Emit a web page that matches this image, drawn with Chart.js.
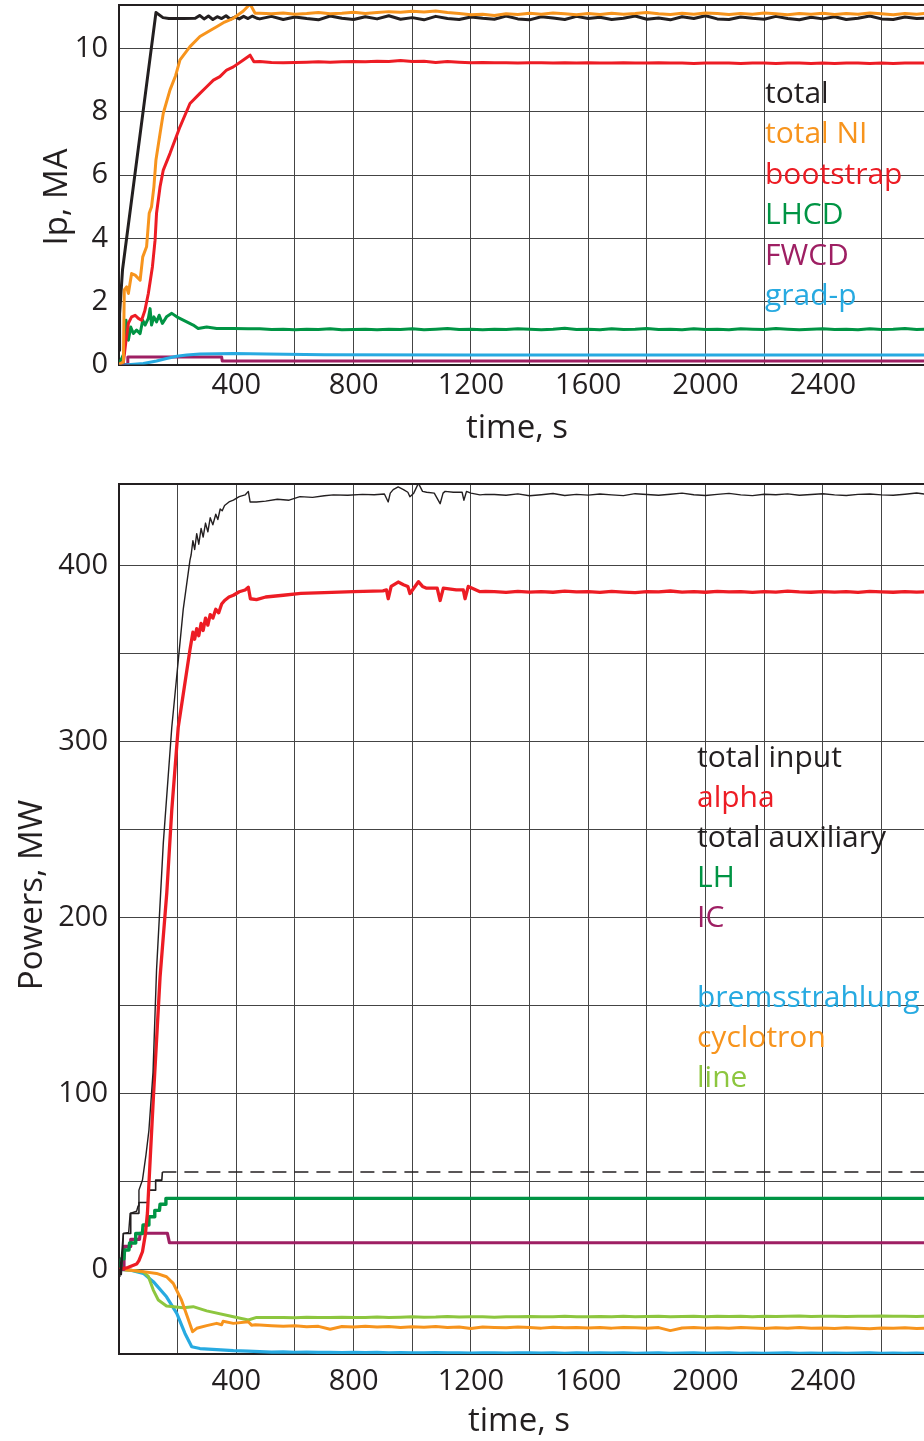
<!DOCTYPE html>
<html>
<head>
<meta charset="utf-8">
<script src="https://cdn.jsdelivr.net/npm/chart.js@4.4.1/dist/chart.umd.min.js"></script>
<style>
  html, body { margin: 0; padding: 0; background: #fff; overflow: hidden; }
  canvas { display: block; position: absolute; left: 0; }
  #ipChart { top: 0; }
  #pwChart { top: 460px; }
</style>
</head>
<body>
<canvas id="ipChart" width="924" height="460"></canvas>
<canvas id="pwChart" width="924" height="981"></canvas>
<script>
// ---- shared axis ticks ----
const timeGrid = [0, 200, 400, 600, 800, 1000, 1200, 1400, 1600, 1800, 2000, 2200, 2400, 2600];
const ipTicks = [0, 2, 4, 6, 8, 10];
const pwTicks = [0, 50, 100, 150, 200, 250, 300, 350, 400];

// common sampling of the flat part (s)
const tGrid = [480, 520, 560, 600, 640, 680, 720, 760, 800, 840, 880, 920, 960, 1000, 1040, 1080, 1120, 1160, 1200, 1240,
  1280, 1320, 1360, 1400, 1440, 1480, 1520, 1560, 1600, 1640, 1680, 1720, 1760, 1800, 1840, 1880, 1920, 1960, 2000, 2040,
  2080, 2120, 2160, 2200, 2240, 2280, 2320, 2360, 2400, 2440, 2480, 2520, 2560, 2600, 2640, 2680, 2720, 2760];
const tLate = tGrid.slice(20); // 1280 .. 2760

// ---- top panel: currents, MA ----
const ipLabels = ['total', 'total NI', 'bootstrap', 'LHCD', 'FWCD', 'grad-p'];

const totT = [0, 2, 12, 126, 150, 170, 220, 260, 275, 290, 305, 320, 335, 350, 365, 380, 395, 410, 425, 440, 455, 470];
const totHead = [0.45, 1.6, 3.0, 11.15, 10.99, 10.96, 10.96, 10.97, 11.06, 10.95, 11.04, 10.93, 11.02, 10.96, 11.05, 10.94, 11.01, 10.95, 11.03, 10.96, 11.04, 10.97];
const totTail = [10.95, 11.03, 10.93, 11.01, 10.96, 10.92, 11.04, 10.97, 10.93, 11.02,
  10.95, 11.05, 10.94, 10.99, 10.92, 11.03, 10.96, 10.93, 11.01, 10.97,
  10.94, 11.04, 10.95, 10.92, 11.02, 10.98, 10.93, 11.03, 10.96, 11.00,
  10.93, 10.97, 11.04, 10.94, 10.98, 10.92, 11.02, 10.96, 11.05, 10.95,
  10.93, 11.01, 10.97, 10.94, 11.03, 10.96, 10.92, 11.00, 10.95, 11.02,
  10.93, 10.97, 11.04, 10.95, 10.93, 11.01, 10.96, 10.98];

const niT = [0, 15, 18, 26, 32, 43, 55, 72, 81, 94, 103, 111, 119, 126, 140, 151, 174, 193, 208, 242, 276, 305, 333, 360, 390, 424, 447, 464];
const niHead = [0, 0.08, 2.36, 2.46, 2.25, 2.88, 2.83, 2.67, 3.41, 3.73, 4.79, 5.0, 5.63, 6.48, 7.32, 7.96, 8.7, 9.15, 9.65, 10.07, 10.39, 10.55, 10.7, 10.85, 10.97, 11.2, 11.42, 11.13];
const niTail = [11.13, 11.11, 11.14, 11.10, 11.12, 11.15, 11.11, 11.13, 11.16, 11.12,
  11.15, 11.18, 11.16, 11.19, 11.17, 11.20, 11.15, 11.12, 11.08, 11.10,
  11.06, 11.11, 11.09, 11.13, 11.10, 11.14, 11.11, 11.08, 11.12, 11.09,
  11.13, 11.10, 11.12, 11.15, 11.11, 11.09, 11.13, 11.10, 11.14, 11.12,
  11.09, 11.12, 11.10, 11.14, 11.11, 11.08, 11.12, 11.10, 11.13, 11.09,
  11.12, 11.10, 11.14, 11.11, 11.08, 11.12, 11.10, 11.13];

const bsT = [0, 15, 24, 32, 43, 55, 66, 77, 88, 100, 114, 123, 128, 140, 151, 174, 208, 242, 276, 299, 322, 344, 367, 390, 424, 447, 460];
const bsHead = [0, 0.08, 0.77, 1.3, 1.51, 1.56, 1.46, 1.4, 1.7, 2.25, 3.1, 3.94, 4.79, 5.63, 6.16, 6.69, 7.53, 8.27, 8.59, 8.8, 9.01, 9.12, 9.33, 9.43, 9.65, 9.8, 9.59];
const bsTail = [9.60, 9.57, 9.56, 9.57, 9.58, 9.59, 9.58, 9.59, 9.60, 9.59,
  9.61, 9.60, 9.63, 9.60, 9.61, 9.57, 9.60, 9.58, 9.56, 9.57,
  9.56, 9.56, 9.55, 9.56, 9.56, 9.55, 9.56, 9.55, 9.56, 9.55,
  9.55, 9.56, 9.55, 9.55, 9.56, 9.55, 9.55, 9.54, 9.55, 9.55,
  9.55, 9.54, 9.55, 9.55, 9.54, 9.55, 9.55, 9.54, 9.55, 9.54,
  9.55, 9.55, 9.54, 9.55, 9.54, 9.55, 9.55, 9.55];

const lhcdT = [0, 17, 24, 32, 40, 49, 60, 72, 81, 89, 100, 106, 111, 119, 128, 137, 148, 162, 180, 197, 231, 253, 270, 299, 333, 390, 440];
const lhcdHead = [0, 0.35, 1.4, 0.77, 1.19, 0.98, 1.09, 0.98, 1.4, 1.25, 1.46, 1.77, 1.25, 1.51, 1.35, 1.56, 1.3, 1.51, 1.62, 1.51, 1.35, 1.25, 1.14, 1.19, 1.14, 1.14, 1.13];
const lhcdTail = [1.13, 1.11, 1.12, 1.10, 1.12, 1.11, 1.13, 1.10, 1.11, 1.12,
  1.10, 1.12, 1.11, 1.13, 1.10, 1.12, 1.14, 1.11, 1.12, 1.10,
  1.12, 1.11, 1.13, 1.12, 1.10, 1.12, 1.15, 1.11, 1.12, 1.10,
  1.13, 1.11, 1.12, 1.14, 1.11, 1.12, 1.10, 1.13, 1.11, 1.12,
  1.10, 1.13, 1.12, 1.11, 1.14, 1.12, 1.10, 1.12, 1.13, 1.11,
  1.12, 1.10, 1.13, 1.11, 1.12, 1.14, 1.11, 1.12];

const fwcdT = [0, 28, 30, 350, 352, 2760];
const fwcdV = [0, 0, 0.24, 0.24, 0.11, 0.11];

const gradT = [0, 40, 83, 128, 162, 197, 231, 276, 390, 504, 700, 1200, 2760];
const gradV = [-0.02, 0.0, 0.03, 0.11, 0.19, 0.26, 0.30, 0.33, 0.35, 0.33, 0.31, 0.30, 0.30];

// ---- bottom panel: powers, MW ----
const pwLabels = ['total input', 'alpha', 'total auxiliary', 'LH', 'IC', '', 'bremsstrahlung', 'cyclotron', 'line'];

const pinT = [0, 3, 5, 8, 12, 15, 33, 38, 60, 65, 68, 80, 92, 102, 116, 128, 151, 180, 219, 242,
  246, 252, 258, 265, 272, 280, 287, 295, 303, 311, 320, 330, 337, 345, 352, 360, 375, 390, 410, 430,
  441, 447, 469, 500, 540, 580, 617, 660, 700, 731, 780, 830, 870, 905, 918, 925, 935, 952, 970, 985,
  992, 1005, 1021, 1035, 1049, 1075, 1095, 1105, 1112, 1140, 1170, 1176, 1185, 1200, 1231, 1250];
const pinHead = [0, -4, 4, -3, 8, 20.4, 21, 31.8, 33, 36, 45, 50.7, 65, 79, 112, 170, 242, 308, 375, 403,
  406, 414, 409, 418, 412, 421, 416, 424, 419, 427, 423, 429, 426, 432, 431, 434, 436, 437, 439, 440,
  442, 436, 436, 436.5, 437.5, 437, 439, 438.6, 439.5, 440, 439.8, 440.3, 440.1, 440.5, 436, 441, 443, 444.5, 443, 441.5,
  439, 441, 446.6, 442, 441.5, 441, 435, 441, 442, 441.5, 441.5, 437, 442, 441, 440, 440.3];
const pinTail = [440.2, 439.8, 440.6, 439.5, 440.1, 440.8, 439.7, 440.3, 439.9, 440.5,
  440.0, 439.6, 440.7, 440.2, 439.8, 440.4, 441.0, 440.1, 439.7, 440.3,
  440.9, 440.0, 439.6, 440.4, 440.1, 440.6, 439.8, 440.2, 440.7, 440.0,
  439.7, 440.3, 440.5, 440.0, 439.8, 440.4, 441.1, 440.2];

const alphaT = [0, 30, 60, 68, 80, 90, 97, 108, 118, 140, 163, 180, 202, 242, 246, 252, 258, 265, 272, 280,
  287, 295, 303, 311, 320, 330, 340, 350, 360, 375, 390, 410, 430, 441, 448, 469, 500, 560, 620, 700,
  800, 900, 912, 918, 928, 952, 970, 985, 992, 1005, 1021, 1035, 1049, 1085, 1095, 1106, 1150, 1174, 1180, 1191,
  1231, 1250];
const alphaHead = [0, 1, 3, 5, 10, 20, 32, 68, 100, 166, 214, 261, 308, 352, 356, 362, 358, 364, 360, 367,
  363, 370, 366, 372, 370, 375, 373, 378, 380, 382, 383, 385, 386, 387.5, 381, 380.5, 382, 383, 384, 384.5,
  385, 385.5, 386, 381, 388, 390.5, 389, 388, 384, 387, 390.7, 388, 387, 387, 380, 387, 386, 386, 381, 388,
  385, 385.2];
const alphaTail = [385.0, 384.6, 385.2, 384.8, 385.1, 384.7, 385.3, 384.9, 385.0, 384.6,
  385.2, 384.8, 384.5, 385.1, 384.9, 385.4, 384.8, 385.0, 384.7, 385.2,
  384.9, 385.1, 384.6, 385.0, 384.8, 385.3, 384.9, 384.7, 385.1, 384.8,
  385.0, 384.6, 385.2, 384.9, 384.7, 385.1, 384.8, 385.0];

const auxT = [0, 5, 15, 38, 40, 65, 68, 98, 100, 123, 125, 146, 148, 2760];
const auxV = [0, 0, 20.4, 20.4, 31.8, 31.8, 38, 38, 45, 45, 50.7, 50.7, 55.3, 55.3];

const lhT = [0, 6, 8, 17, 19, 34, 36, 55, 57, 80, 82, 100, 102, 120, 122, 138, 140, 158, 160, 2760];
const lhV = [0, 0, 6, 6, 11, 11, 15, 15, 20.4, 20.4, 25.2, 25.2, 29.9, 29.9, 33.5, 33.5, 37, 37, 40.3, 40.3];

const icT = [0, 14, 17, 38, 40, 70, 72, 165, 172, 2760];
const icV = [0, 0, 13, 13, 17, 17, 20.5, 20.5, 15.1, 15.1];

const bremT = [0, 40, 83, 117, 162, 197, 225, 248, 276, 390, 440];
const bremHead = [0, -0.5, -2.3, -7, -15.6, -25, -36.4, -44, -45, -46.2, -46.5];
const bremTail = [-46.8, -47.0, -46.9, -47.1, -47.0, -47.2, -47.1, -47.3, -47.2, -47.3,
  -47.2, -47.4, -47.3, -47.5, -47.4, -47.3, -47.5, -47.4, -47.6, -47.5,
  -47.4, -47.6, -47.5, -47.4, -47.6, -47.5, -47.7, -47.5, -47.6, -47.4,
  -47.6, -47.5, -47.7, -47.6, -47.5, -47.7, -47.6, -47.5, -47.7, -47.6,
  -47.5, -47.7, -47.6, -47.8, -47.6, -47.5, -47.7, -47.6, -47.8, -47.6,
  -47.7, -47.6, -47.5, -47.7, -47.6, -47.8, -47.6, -47.7];

const cycT = [0, 40, 83, 128, 162, 185, 213, 231, 251, 265, 299, 333, 350, 355, 390, 441, 452, 465];
const cycHead = [0, -0.5, -1.3, -2.3, -4.2, -8, -17.4, -26, -35.4, -33.5, -32, -30.7, -31.5, -29.5, -30.7, -29.8, -31.7, -31.5];
const cycTail = [-31.6, -32.0, -32.3, -32.1, -32.6, -32.4, -34.0, -32.5, -32.7, -32.4,
  -32.8, -32.5, -33.0, -32.6, -32.9, -32.5, -33.1, -32.7, -33.6, -32.8,
  -33.0, -33.2, -32.8, -33.1, -33.4, -32.9, -33.2, -33.0, -33.3, -33.1,
  -33.4, -33.0, -33.2, -33.5, -33.1, -34.8, -33.3, -33.0, -33.4, -33.2,
  -33.5, -33.1, -33.3, -33.6, -33.2, -33.4, -33.1, -33.5, -33.3, -33.6,
  -33.2, -33.4, -33.7, -33.3, -33.5, -33.2, -33.6, -33.4];

const lineT = [0, 40, 83, 100, 117, 134, 162, 219, 253, 299, 390, 441, 469];
const lineHead = [0, -0.5, -1.5, -4, -11.8, -17.4, -20.8, -21.8, -21.2, -23.6, -26.9, -28.8, -27.3];
const lineTail = [-27.3, -27.4, -27.3, -27.5, -27.2, -27.4, -27.3, -27.2, -27.4, -27.3,
  -27.1, -27.3, -27.2, -27.0, -27.2, -27.1, -26.8, -27.1, -26.9, -27.0,
  -27.2, -26.9, -27.0, -26.8, -27.0, -26.9, -26.7, -26.9, -27.0, -26.8,
  -26.9, -26.7, -26.9, -26.8, -26.6, -26.9, -26.8, -26.7, -26.9, -26.6,
  -26.8, -26.7, -26.9, -26.6, -26.8, -26.7, -26.5, -26.8, -26.7, -26.6,
  -26.8, -26.6, -26.7, -26.5, -26.7, -26.6, -26.8, -26.6];

// ---- colours ----
const INK = '#231f20';
const ORANGE = '#f7941d';
const RED = '#ed1c24';
const GREEN = '#009444';
const PURPLE = '#9e1f63';
const BLUE = '#27aae1';
const LIME = '#8dc63f';
const GRID = '#444444';
const FONT = '"Open Sans", sans-serif';

Chart.defaults.font.family = FONT;
Chart.defaults.color = INK;

function pts(ts, vs) {
  return ts.map((t, i) => ({ x: t, y: vs[i] }));
}

function series(ts, vs, color, width, extra) {
  return Object.assign({
    data: pts(ts, vs), borderColor: color, borderWidth: width,
    pointRadius: 0, tension: 0, fill: false, borderJoinStyle: 'round'
  }, extra || {});
}

// top frame line, axis titles and the coloured labels
const decor = {
  id: 'decor',
  afterDraw(chart, args, o) {
    const ctx = chart.ctx;
    const a = chart.chartArea;
    ctx.save();
    ctx.strokeStyle = INK;
    ctx.lineWidth = 2;
    ctx.beginPath();
    ctx.moveTo(a.left, a.top);
    ctx.lineTo(a.right, a.top);
    ctx.stroke();

    ctx.fillStyle = INK;
    ctx.font = '33px ' + FONT;
    ctx.textAlign = 'center';
    ctx.textBaseline = 'alphabetic';
    ctx.fillText(o.xTitle, o.xTitleX, o.xTitleY);
    ctx.save();
    ctx.translate(o.yTitleX, o.yTitleY);
    ctx.rotate(-Math.PI / 2);
    ctx.fillText(o.yTitle, 0, 0);
    ctx.restore();

    ctx.font = '30px ' + FONT;
    ctx.textAlign = 'left';
    o.labels.forEach((txt, i) => {
      if (!txt) return;
      ctx.fillStyle = o.colors[i];
      ctx.fillText(txt, o.legX, o.legY + i * o.legStep);
    });
    ctx.restore();
  }
};

function noPad(s) {
  s.paddingLeft = 0; s.paddingRight = 0; s.paddingTop = 0; s.paddingBottom = 0;
}

function makeScales(yMin, yMax, yTicks, yLabel, xAxisH, xPad) {
  return {
    x: {
      type: 'linear', min: 0, max: 2745,
      afterBuildTicks: s => { s.ticks = timeGrid.map(v => ({ value: v })); },
      afterFit: s => { s.height = xAxisH; noPad(s); },
      grid: { color: GRID, lineWidth: 1, drawTicks: false },
      border: { color: INK, width: 2 },
      ticks: {
        padding: xPad, color: INK, font: { size: 29 }, maxRotation: 0, autoSkip: false,
        callback: v => (v > 0 && v % 400 === 0) ? String(v) : ''
      }
    },
    y: {
      type: 'linear', min: yMin, max: yMax,
      afterBuildTicks: s => { s.ticks = yTicks.map(v => ({ value: v })); },
      afterFit: s => { s.width = 119; noPad(s); },
      grid: { color: GRID, lineWidth: 1, drawTicks: false },
      border: { color: INK, width: 2 },
      ticks: { padding: 11, color: INK, font: { size: 29 }, autoSkip: false, callback: yLabel }
    }
  };
}

new Chart(document.getElementById('ipChart'), {
  type: 'line',
  data: {
    datasets: [
      series(niT.concat(tGrid), niHead.concat(niTail), ORANGE, 3),
      series(totT.concat(tGrid), totHead.concat(totTail), INK, 3),
      series(bsT.concat(tGrid), bsHead.concat(bsTail), RED, 3),
      series(lhcdT.concat(tGrid), lhcdHead.concat(lhcdTail), GREEN, 3),
      series(gradT, gradV, BLUE, 3),
      series(fwcdT, fwcdV, PURPLE, 3)
    ]
  },
  options: {
    responsive: false, animation: false, devicePixelRatio: 1,
    layout: { padding: { top: 5, right: 0, bottom: 0, left: 0 } },
    scales: makeScales(0, 11.39, ipTicks, v => String(v), 95.5, 4),
    plugins: {
      legend: { display: false }, tooltip: { enabled: false },
      decor: {
        xTitle: 'time, s', xTitleX: 517, xTitleY: 438,
        yTitle: 'Ip, MA', yTitleX: 67, yTitleY: 197,
        labels: ipLabels, colors: [INK, ORANGE, RED, GREEN, PURPLE, BLUE],
        legX: 765, legY: 103, legStep: 40.4
      }
    }
  },
  plugins: [decor]
});

new Chart(document.getElementById('pwChart'), {
  type: 'line',
  data: {
    datasets: [
      series(pinT.concat(tLate), pinHead.concat(pinTail), INK, 1.4),
      series(alphaT.concat(tLate), alphaHead.concat(alphaTail), RED, 3.3),
      series(auxT, auxV, INK, 1.6, { segment: { borderDash: c => c.p0.parsed.x >= 148 ? [14, 8] : undefined } }),
      series(lhT, lhV, GREEN, 3.4),
      series(icT, icV, PURPLE, 3.2),
      series(cycT.concat(tGrid), cycHead.concat(cycTail), ORANGE, 3),
      series(lineT.concat(tGrid), lineHead.concat(lineTail), LIME, 3),
      series(bremT.concat(tGrid), bremHead.concat(bremTail), BLUE, 3.2)
    ]
  },
  options: {
    responsive: false, animation: false, devicePixelRatio: 1,
    layout: { padding: { top: 24, right: 0, bottom: 0, left: 0 } },
    scales: makeScales(-48.1, 446.2, pwTicks, v => (v % 100 === 0 ? String(v) : ''), 87, 10),
    plugins: {
      legend: { display: false }, tooltip: { enabled: false },
      decor: {
        xTitle: 'time, s', xTitleX: 519, xTitleY: 971,
        yTitle: 'Powers, MW', yTitleX: 42, yTitleY: 435,
        labels: pwLabels, colors: [INK, RED, INK, GREEN, PURPLE, INK, BLUE, ORANGE, LIME],
        legX: 697, legY: 306.7, legStep: 40
      }
    }
  },
  plugins: [decor]
});
</script>
</body>
</html>
